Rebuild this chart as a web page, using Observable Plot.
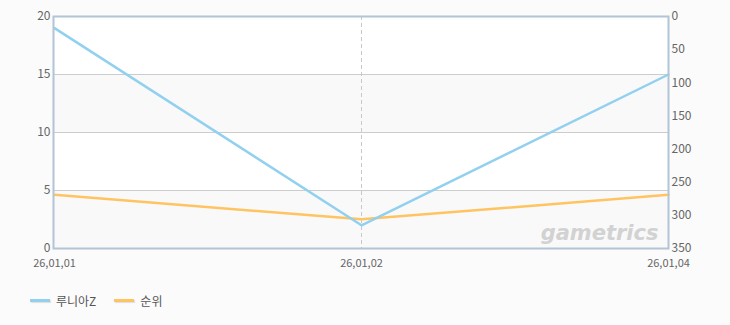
<!DOCTYPE html>
<html>
<head>
<meta charset="utf-8">
<script src="https://cdn.jsdelivr.net/npm/d3@7"></script>
<script src="https://cdn.jsdelivr.net/npm/@observablehq/plot@0.6"></script>
<style>
  html, body { margin: 0; padding: 0; background: #fbfbfb; }
  body { width: 730px; height: 325px; overflow: hidden; font-family: "Noto Sans CJK KR", "DejaVu Sans", sans-serif; }
  #legend { display: flex; align-items: center; height: 30px; padding-left: 30px; margin-top: 9px; font-size: 12px; color: #555; }
  .item { display: flex; align-items: center; margin-right: 18px; }
  .sw { width: 20px; height: 3px; margin-right: 6px; box-shadow: 1px 1px 1px #ddd; }
</style>
</head>
<body>
<div id="chart"></div>
<div id="legend"></div>
<script>
const dates = ["26,01,01", "26,01,02", "26,01,04"];
const seriesNames = ["루니아Z", "순위"];
const luniaValues = [19, 2, 15];
const rankValues = [269, 306, 269];
const leftTicks = [0, 5, 10, 15, 20];
const rightTicks = [0, 50, 100, 150, 200, 250, 300, 350];
const bands = [[0, 5], [10, 15]];
const colors = ["#92d0ef", "#ffc462"];

const leftMax = 20, rightMax = 350;
const rankToLeft = r => leftMax - r * leftMax / rightMax;

const lunia = dates.map((d, i) => ({date: d, v: luniaValues[i]}));
const rank = dates.map((d, i) => ({date: d, v: rankToLeft(rankValues[i])}));

const chart = Plot.plot({
  width: 730,
  height: 276,
  marginLeft: 53,
  marginRight: 62,
  marginTop: 16,
  marginBottom: 28,
  style: {background: "transparent", fontFamily: "'Noto Sans CJK KR', 'DejaVu Sans', sans-serif", fontSize: "11px", color: "#666"},
  x: {type: "point", domain: dates, padding: 0},
  y: {domain: [0, leftMax]},
  marks: [
    Plot.frame({fill: "white"}),
    Plot.rectY(bands, {y1: d => d[0], y2: d => d[1], fill: "#f9f9f9"}),
    Plot.ruleY([5, 10, 15], {stroke: "#cccccc"}),
    Plot.ruleX([dates[1]], {stroke: "#c8c8c8", strokeDasharray: "4,3"}),
    Plot.text(["gametrics"], {frameAnchor: "bottom-right", dx: -10, dy: -9, fill: "#d2d2d2", fontSize: 21, fontWeight: "bold", fontStyle: "italic", fontFamily: "'DejaVu Sans', sans-serif"}),
    Plot.line(rank, {x: "date", y: "v", stroke: colors[1], strokeWidth: 2.5}),
    Plot.line(lunia, {x: "date", y: "v", stroke: colors[0], strokeWidth: 2.5}),
    Plot.frame({stroke: "#b2c4d6", strokeWidth: 2}),
    Plot.axisY(leftTicks, {anchor: "left", tickSize: 0, tickPadding: 3, fill: "#666", fontSize: 12, label: null}),
    Plot.axisY(rightTicks.map(rankToLeft), {anchor: "right", tickSize: 0, tickPadding: 3, fill: "#666", fontSize: 12, label: null, tickFormat: v => String(Math.round((leftMax - v) * rightMax / leftMax))}),
    Plot.axisX(dates, {tickSize: 0, tickPadding: 11, fill: "#666", fontSize: 11, label: null})
  ]
});
document.getElementById("chart").appendChild(chart);

const legend = document.getElementById("legend");
seriesNames.forEach((name, i) => {
  const item = document.createElement("div");
  item.className = "item";
  const sw = document.createElement("span");
  sw.className = "sw";
  sw.style.background = colors[i];
  const t = document.createElement("span");
  t.textContent = name;
  item.appendChild(sw);
  item.appendChild(t);
  legend.appendChild(item);
});
</script>
</body>
</html>
